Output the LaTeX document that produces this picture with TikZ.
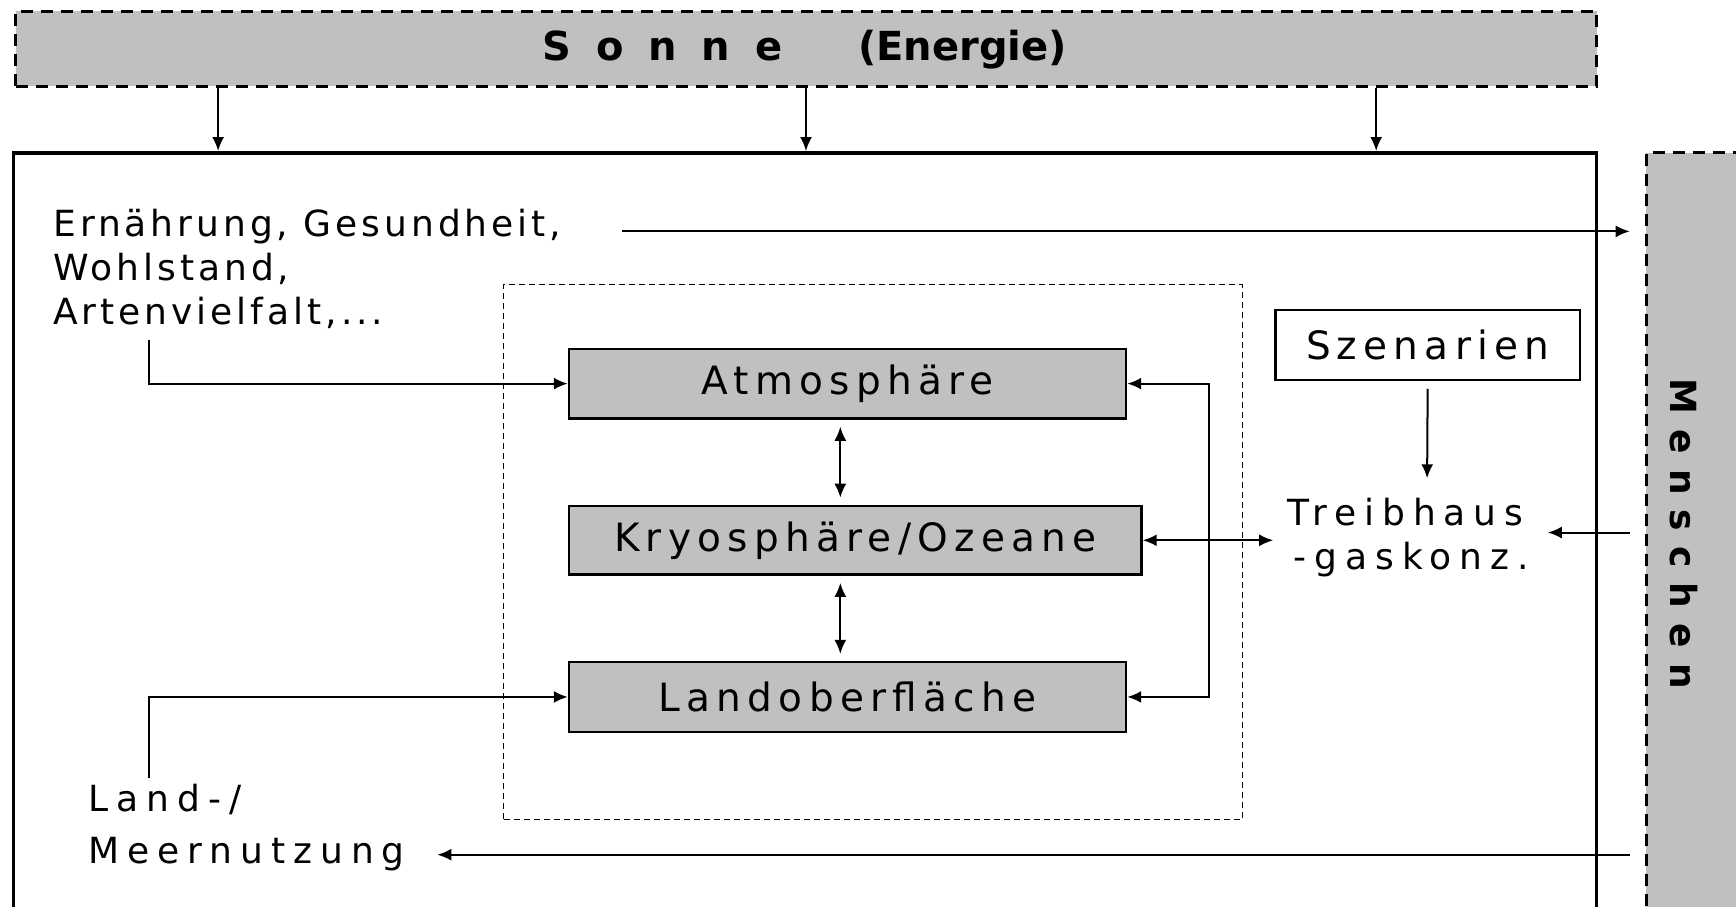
\documentclass[tikz,border=0pt]{standalone}
\usepackage{fontspec}
\setmainfont{DejaVu Sans}
\newfontfamily\spA[LetterSpace=11]{DejaVu Sans}
\newfontfamily\spB[LetterSpace=16]{DejaVu Sans}
\newfontfamily\spC[LetterSpace=22]{DejaVu Sans}
\usetikzlibrary{arrows.meta,fit,calc}
\definecolor{boxgray}{HTML}{C0C0C0}
\tikzset{
  arr/.style={line width=2pt,-{Latex[length=14pt,width=12pt]}},
  darr/.style={line width=2pt,{Latex[length=14pt,width=12pt]}-{Latex[length=14pt,width=12pt]}},
  graybox/.style={draw,line width=2.5pt,fill=boxgray,inner sep=0pt},
  dashbox/.style={draw,line width=3pt,dash pattern=on 12pt off 8pt,fill=boxgray,inner sep=0pt},
  txt/.style={align=left,inner sep=0pt},
  boxtxt/.style={font=\spB\fontsize{39}{46}\selectfont}
}
\begin{document}
\begin{tikzpicture}[x=1.1071pt,y=-1.1071pt]
\useasboundingbox[fill=white] (0,0) rectangle (1568,819);
% Sonne
\node[dashbox,fit={(14,10) (1442,78)}] (sonne) {};
\node[font=\fontsize{40}{46}\selectfont\bfseries] (sonnetxt) at (727,45) {S\hspace{0.62em}o\hspace{0.62em}n\hspace{0.62em}n\hspace{0.62em}e\hspace{1.9em}(Energie)};
% main box
\node[draw,line width=3.5pt,inner sep=0pt,fit={(12,138) (1442,850)}] (main) {};
% Menschen
\node[dashbox,fit={(1487,138) (1600,850)}] (menschen) {};
\node[rotate=-90,font=\fontsize{36}{44}\selectfont\bfseries] (menschtxt) at (1521,482) {M\hspace{0.42em}e\hspace{0.42em}n\hspace{0.42em}s\hspace{0.42em}c\hspace{0.42em}h\hspace{0.42em}e\hspace{0.42em}n};
% arrows from Sonne
\coordinate (s1) at (197,0);
\coordinate (s2) at (728,0);
\coordinate (s3) at (1243,0);
\draw[arr] (sonne.south -| s1) -- (main.north -| s1);
\draw[arr] (sonne.south -| s2) -- (main.north -| s2);
\draw[arr] (sonne.south -| s3) -- (main.north -| s3);
% inner dashed box
\node[draw,line width=1.3pt,dash pattern=on 6pt off 4pt,inner sep=0pt,fit={(455,257) (1122,740)}] (inner) {};
% components
\node[graybox,fit={(514,315) (1017,378)}] (atm) {};
\node[boxtxt] (atmtxt) at (atm.center) {Atmosphäre};
\node[graybox,fit={(514,457) (1031,519)}] (kry) {};
\node[boxtxt] (krytxt) at (kry.center) {Kryosphäre/Ozeane};
\node[graybox,fit={(514,598) (1017,661)}] (land) {};
\node[boxtxt] (landtxt) at (land.center) {Landoberfläche};
\node[draw,line width=2.5pt,inner sep=0pt,fit={(1152,280) (1427,343)}] (szen) {};
\node[boxtxt] (szentxt) at (szen.center) {Szenarien};
% texts
\node[txt,anchor=north west,font=\spA\fontsize{36}{44}\selectfont] (ern) at (48,189) {Ernährung, Gesundheit,\\Wohlstand,\\Artenvielfalt,...};
\node[txt,anchor=north west,font=\spC\fontsize{36}{52}\selectfont] (lnu) at (80,708) {Land-/\\Meernutzung};
\node[txt,anchor=north west,font=\spC\fontsize{36}{44}\selectfont] (treib) at (1163,450) {Treibhaus\\\,-gaskonz.};
% connectors
\coordinate (ernend) at (562,209);
\coordinate (mtip) at (1472,0);
\draw[arr] (ernend) -- (ernend -| mtip);
\coordinate (ernstart) at (135,307);
\draw[arr] (ernstart) |- (atm.west);
\coordinate (lnstart) at (135,703);
\draw[arr] (lnstart) |- (land.west);
\coordinate (c1) at (759,0);
\draw[darr,shorten <=7pt,shorten >=7pt] (atm.south -| c1) -- (kry.north -| c1);
\draw[darr,shorten <=7pt,shorten >=7pt] (kry.south -| c1) -- (land.north -| c1);
\coordinate (fb) at (1092,491);
\draw[darr] (atm.east) -| (fb) |- (land.east);
\coordinate (trw) at (1150,0);
\draw[darr] (kry.east) -- (kry.east -| trw);
\draw[arr] ($(szen.south)+(0,7)$) -- (1289,432);
\coordinate (m1) at (1472,481);
\coordinate (t1) at (1398,481);
\draw[arr] (m1) -- (t1);
\coordinate (m2) at (1472,772);
\coordinate (l2) at (395,772);
\draw[arr] (m2) -- (l2);
\end{tikzpicture}
\end{document}
